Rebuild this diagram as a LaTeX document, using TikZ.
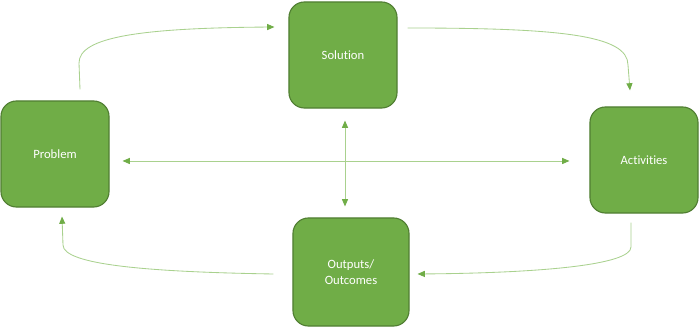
\documentclass[tikz,border=0pt]{standalone}
\usepackage{fontspec}
\setmainfont{Carlito}[Ligatures=NoCommon]
\usepackage{xcolor}
\usetikzlibrary{arrows.meta, positioning, calc}
\definecolor{stagegreen}{HTML}{70AD47}
\definecolor{stageedge}{HTML}{507E32}
\definecolor{linkgreen}{HTML}{A9D18E}

\begin{document}
\begin{tikzpicture}[
    x=0.025cm, y=0.025cm,
    stage/.style={draw=stageedge, fill=stagegreen, line width=0.8pt, rounded corners=11pt, minimum width=2.7cm, minimum height=2.65cm, align=center, text=white, font=\fontsize{9}{11}\selectfont},
    link/.style={draw=linkgreen, line width=0.6pt, -{Triangle[length=1.8mm, width=1.5mm, color=stagegreen]}},
    twoway/.style={link, {Triangle[length=1.8mm, width=1.5mm, color=stagegreen]}-{Triangle[length=1.8mm, width=1.5mm, color=stagegreen]}},
]
\useasboundingbox[fill=white] (0,0) rectangle (700,327);

\node[stage] (solution) at (343,272) {Solution};
\node[stage] (problem) at (55,173) {Problem};
\node[stage] (activities) at (644,167) {Activities};
\node[stage, minimum width=2.9cm, minimum height=2.7cm] (outputs) at (351,55) {Outputs/\\Outcomes};

% cycle round the four stages
\draw[link] ($(problem.north)+(25,11)$) -- (79,264) .. controls (79,290) and (140,299) .. ($(solution.west)+(-14,28)$);
\draw[link] ($(solution.east)+(10,27)$) .. controls (560,299) and (628,292) .. (628,262) -- ($(activities.north)+(-14,16)$);
\draw[link] ($(activities.south)+(-13,-9)$) -- (631,80) .. controls (631,62) and (540,54) .. ($(outputs.east)+(8,-2)$);
\draw[link] ($(outputs.west)+(-19,-2)$) .. controls (150,55) and (63,62) .. (63,82) -- ($(problem.south)+(7,-9)$);

% cross links
\draw[twoway] ($(problem.east)+(13,-7)$) -- ($(activities.west)+(-20,-1)$);
\draw[twoway] ($(solution.south)+(2,-12)$) -- ($(outputs.north)+(-6,11)$);
\end{tikzpicture}
\end{document}
